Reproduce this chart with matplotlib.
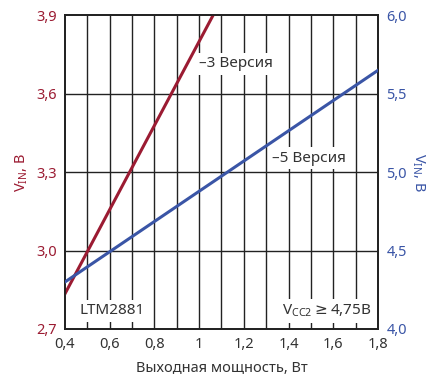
import numpy as np
import matplotlib
matplotlib.use("Agg")
from matplotlib import pyplot as plt

# values
power_w = [0.4, 0.7, 1.062]
vin_3v = [2.835, 3.318, 3.9]
power_w5 = [0.4, 1.1, 1.8]
vin_5v = [4.30, 4.975, 5.65]

x_ticks = [0.4, 0.6, 0.8, 1.0, 1.2, 1.4, 1.6, 1.8]
x_ticklabels = ["0,4", "0,6", "0,8", "1", "1,2", "1,4", "1,6", "1,8"]
left_ticks = [2.7, 3.0, 3.3, 3.6, 3.9]
left_ticklabels = ["2,7", "3,0", "3,3", "3,6", "3,9"]
right_ticks = [4.0, 4.5, 5.0, 5.5, 6.0]
right_ticklabels = ["4,0", "4,5", "5,0", "5,5", "6,0"]

red = "#9b1b32"
blue = "#3a55a6"
grey = "#333333"

plt.rcParams["font.family"] = ["Noto Sans", "DejaVu Sans"]
plt.rcParams["mathtext.fontset"] = "dejavusans"

fig = plt.figure(figsize=(4.38, 3.76), dpi=100)
ax = fig.add_axes([0.1484, 0.125, 0.7146, 0.834])
ax2 = ax.twinx()

ax.set_xlim(0.4, 1.8)
ax.set_ylim(2.7, 3.9)
ax2.set_ylim(4.0, 6.0)

# grid
for xv in np.arange(0.5, 1.8, 0.1):
    ax.axvline(xv, color="#222222", lw=1.0, zorder=1)
for yv in [3.0, 3.3, 3.6]:
    ax.axhline(yv, color="#222222", lw=1.0, zorder=1)

fs = 10.5
ax.set_xticks(x_ticks)
ax.set_xticklabels(x_ticklabels, color=grey, fontsize=fs)
ax.set_yticks(left_ticks)
ax.set_yticklabels(left_ticklabels, color=red, fontsize=fs)
ax2.set_yticks(right_ticks)
ax2.set_yticklabels(right_ticklabels, color=blue, fontsize=fs)
ax.tick_params(length=0, pad=6)
ax2.tick_params(length=0, pad=6)

for a in (ax, ax2):
    for s in a.spines.values():
        s.set_color("#222222")
        s.set_linewidth(1.3)

box = dict(facecolor="white", edgecolor="none", pad=2.5)
ax.text(1.0, 3.715, "–3 Версия", fontsize=11, color=grey, va="center", ha="left",
        bbox=box, zorder=3)
ax2.text(1.326, 5.09, "–5 Версия", fontsize=11, color=grey, va="center", ha="left",
         bbox=box, zorder=3)
ax.text(0.463, 2.769, "LTM2881", fontsize=11, color=grey, va="center", ha="left",
        bbox=box, zorder=3)
ax.text(1.37, 2.769, r"V$_\mathregular{CC2}\geq$4,75В", fontsize=11, color=grey,
        va="center", ha="left", bbox=box, zorder=3)

ax.plot(power_w, vin_3v, color=red, lw=2.2, zorder=4, clip_on=True)
ax2.plot(power_w5, vin_5v, color=blue, lw=2.2, zorder=4)

ax.set_xlabel("Выходная мощность, Вт", color=grey, fontsize=fs, labelpad=6)
ax.set_ylabel(r"V$_\mathregular{IN}$, В", color=red, fontsize=fs, labelpad=4)
ax2.set_ylabel(r"V$_\mathregular{IN}$, В", color=blue, fontsize=fs, rotation=-90,
               labelpad=14)

fig.savefig("out.png", dpi=100)
